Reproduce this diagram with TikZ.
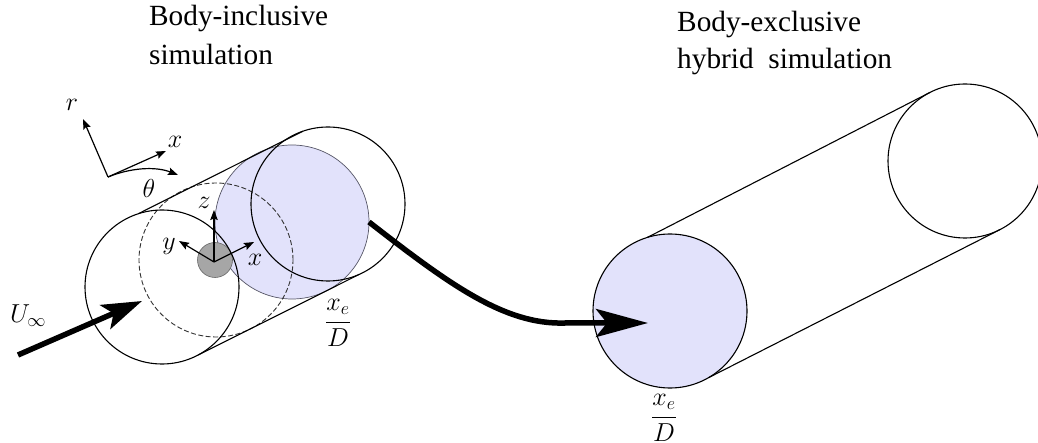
\documentclass[tikz,border=0pt]{standalone}
\usepackage{fix-cm}
\usepackage{fontspec}
\setmainfont{Liberation Serif}
\usetikzlibrary{arrows.meta}
\definecolor{paleblue}{HTML}{E2E2FB}
\definecolor{sphere}{HTML}{A6A6A6}
\definecolor{rimgray}{HTML}{555566}
\tikzset{
  x=1pt,y=-1pt,
  disc/.style={circle,inner sep=0pt,outer sep=0pt,minimum size=154pt,draw=black,line width=1.1pt},
  bluedisc/.style={disc,fill=paleblue},
  wall/.style={line width=1.1pt},
  axis/.style={line width=1.2pt,-{Stealth[length=10pt,width=7.5pt,inset=1.5pt]}},
  flowbig/.style={line width=5.5pt,line cap=butt},
  title/.style={font=\fontsize{29.3}{34}\selectfont,anchor=base west,inner sep=0pt},
  sym/.style={font=\fontsize{26}{31}\selectfont,inner sep=0pt},
}
\begin{document}
\begin{tikzpicture}
\useasboundingbox (0,0) rectangle (1038,443);
% left cylinder
\node[bluedisc,draw=rimgray,line width=0.7pt] (inlet) at (292,222) {};
\node[disc,dash pattern=on 5pt off 2.5pt,line width=0.9pt,draw=black!80] (mid) at (216,260) {};
\node[circle,inner sep=0pt,minimum size=35pt,fill=sphere,draw=black!60,line width=0.6pt] (body) at (215,260) {};
\node[disc] (front) at (162,287) {};
\node[disc] (back) at (328,204) {};
\draw[wall] (front.108) -- (back.109);
\draw[wall] (front.-62) -- (back.-66);
% right cylinder
\node[bluedisc] (hfront) at (670,311) {};
\node[disc] (hback) at (965,161) {};
\draw[wall] (hfront.107) -- (hback.117);
\draw[wall] (hfront.-60) -- (hback.-63);
% axes
\coordinate (o1) at (108,177);
\coordinate (r1) at (83,119);
\coordinate (x1) at (166,151);
\coordinate (t1) at (178,175);
\draw[axis] (o1) -- (r1);
\draw[axis] (o1) -- (x1);
\draw[axis] (o1) .. controls (130,168) and (155,166) .. (t1);
\coordinate (o2) at (214,262);
\coordinate (z2) at (214,210);
\coordinate (y2) at (179,241);
\coordinate (x2) at (254,242);
\draw[axis] (o2) -- (z2);
\draw[axis] (o2) -- (y2);
\draw[axis] (o2) -- (x2);
% flow arrows
\coordinate (u0) at (18,355);
\coordinate (u1) at (142,301);
\draw[flowbig,-{Stealth[length=40pt,width=26pt,inset=9pt]}] (u0) -- (u1);
\coordinate (c0) at (369,222);
\coordinate (c1) at (648,323);
\draw[flowbig,-{Stealth[length=52pt,width=28pt,inset=11pt]}] (c0) .. controls (450,285) and (505,325) .. (565,323) -- (c1);
% labels
\node[title] (t1a) at (149,26) {Body-inclusive};
\node[title] (t1b) at (149,65) {simulation};
\node[title] (t2a) at (677,32) {Body-exclusive};
\node[title] (t2b) at (677,69) {hybrid\ \ simulation};
\node[sym] (lr) at (72,105) {$r$};
\node[sym] (lx1) at (175,142) {$x$};
\node[sym] (lt) at (149,188) {$\theta$};
\node[sym] (lz) at (204,203) {$z$};
\node[sym] (ly) at (169,246) {$y$};
\node[sym] (lx2) at (255,260) {$x$};
\node[sym] (lu) at (28,316) {$U_\infty$};
\node[sym] (lf1) at (338,323) {$\displaystyle\frac{x_e}{D}$};
\node[sym] (lf2) at (664,418) {$\displaystyle\frac{x_e}{D}$};
\end{tikzpicture}
\end{document}
